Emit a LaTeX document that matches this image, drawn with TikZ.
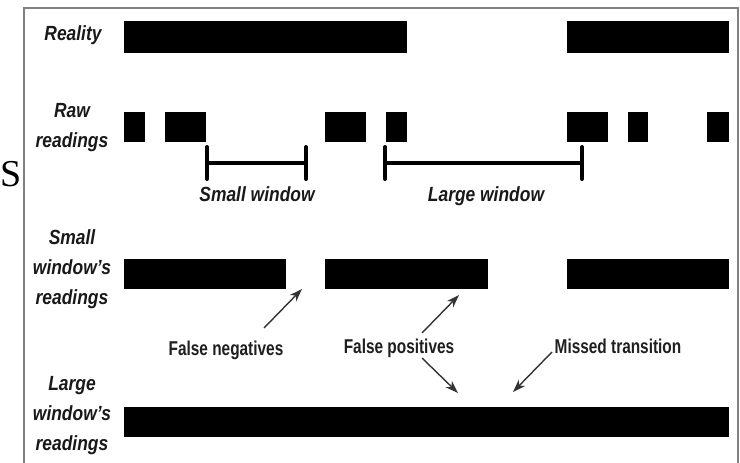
\documentclass[tikz,border=0pt]{standalone}
\usepackage{fontspec}
\setmainfont{Liberation Sans}
\newfontfamily\labfont[FakeStretch=0.85,Ligatures=TeX]{Liberation Sans}
\newfontfamily\annfont[FakeStretch=0.77]{Liberation Sans}
\newfontfamily\serfont{Liberation Serif}
\usetikzlibrary{arrows.meta}
\tikzset{
  bar/.style={fill=black},
  lab/.style={font=\labfont\fontsize{20.5}{30}\selectfont\bfseries\itshape, align=center, text=black!90, inner sep=0pt},
  ann/.style={font=\annfont\fontsize{20}{22}\selectfont\bfseries, text=black!88, inner sep=0pt},
  notearrow/.style={draw=black!80, line width=1.4pt, -{Stealth[length=13pt,width=9pt]}},
  tickline/.style={line width=4pt, line cap=round},
  spanline/.style={line width=3.5pt},
  frameline/.style={draw=black!50, line width=2pt}
}
\begin{document}
\begin{tikzpicture}[x=1pt,y=-1pt]
\useasboundingbox (0,0) rectangle (740,463);
\clip (0,0) rectangle (740,463);
\fill[white] (0,0) rectangle (740,463);

% stray letter at left
\node[font=\serfont\fontsize{38}{38}\selectfont, anchor=base west, inner sep=0pt] (sletter) at (0,186) {S};

% frame
\draw[frameline] (24,475) -- (24,8) -- (738,8) -- (738,475);

% row labels
\node[lab, anchor=base] (reality) at (73,40) {Reality};
\node[lab] (raw) at (72,128) {Raw\\readings};
\node[lab] (swr) at (72,269) {Small\\window’s\\readings};
\node[lab] (lwr) at (72,416) {Large\\window’s\\readings};

% reality bars
\fill[bar] (124,21) rectangle (407,53);
\fill[bar] (567,21) rectangle (729,53);

% raw reading bars
\fill[bar] (124,112) rectangle (145,142);
\fill[bar] (165,112) rectangle (206,142);
\fill[bar] (325,112) rectangle (366,142);
\fill[bar] (386,112) rectangle (407,142);
\fill[bar] (567,112) rectangle (608,142);
\fill[bar] (628,112) rectangle (648,142);
\fill[bar] (707,112) rectangle (729,142);

% small window bracket
\coordinate (sw1) at (207,163);
\coordinate (sw2) at (306,163);
\draw[tickline] (207,147) -- (207,179);
\draw[tickline] (306,147) -- (306,179);
\draw[spanline] (sw1) -- (sw2);
\node[lab, anchor=base] (swlabel) at (257,201) {Small window};

% large window bracket
\coordinate (lw1) at (385,163);
\coordinate (lw2) at (582,163);
\draw[tickline] (385,147) -- (385,179);
\draw[tickline] (582,147) -- (582,179);
\draw[spanline] (lw1) -- (lw2);
\node[lab, anchor=base] (lwlabel) at (486,201) {Large window};

% small window's readings bars
\fill[bar] (124,259) rectangle (286,289);
\fill[bar] (325,259) rectangle (488,289);
\fill[bar] (567,259) rectangle (729,289);

% large window's readings bar
\fill[bar] (124,407) rectangle (729,437);

% annotations
\node[ann, anchor=base] (fn) at (226,355) {False negatives};
\node[ann, anchor=base] (fp) at (399,353) {False positives};
\node[ann, anchor=base] (mt) at (618,353) {Missed transition};

\coordinate (fntail) at (264,328);
\coordinate (fnhead) at (302,289);
\coordinate (fpt1) at (422,333);
\coordinate (fph1) at (459,295);
\coordinate (fpt2) at (422,358);
\coordinate (fph2) at (458,393);
\coordinate (mttail) at (552,352);
\coordinate (mthead) at (513,392);

\draw[notearrow] (fntail) -- (fnhead);
\draw[notearrow] (fpt1) -- (fph1);
\draw[notearrow] (fpt2) -- (fph2);
\draw[notearrow] (mttail) -- (mthead);
\end{tikzpicture}
\end{document}
